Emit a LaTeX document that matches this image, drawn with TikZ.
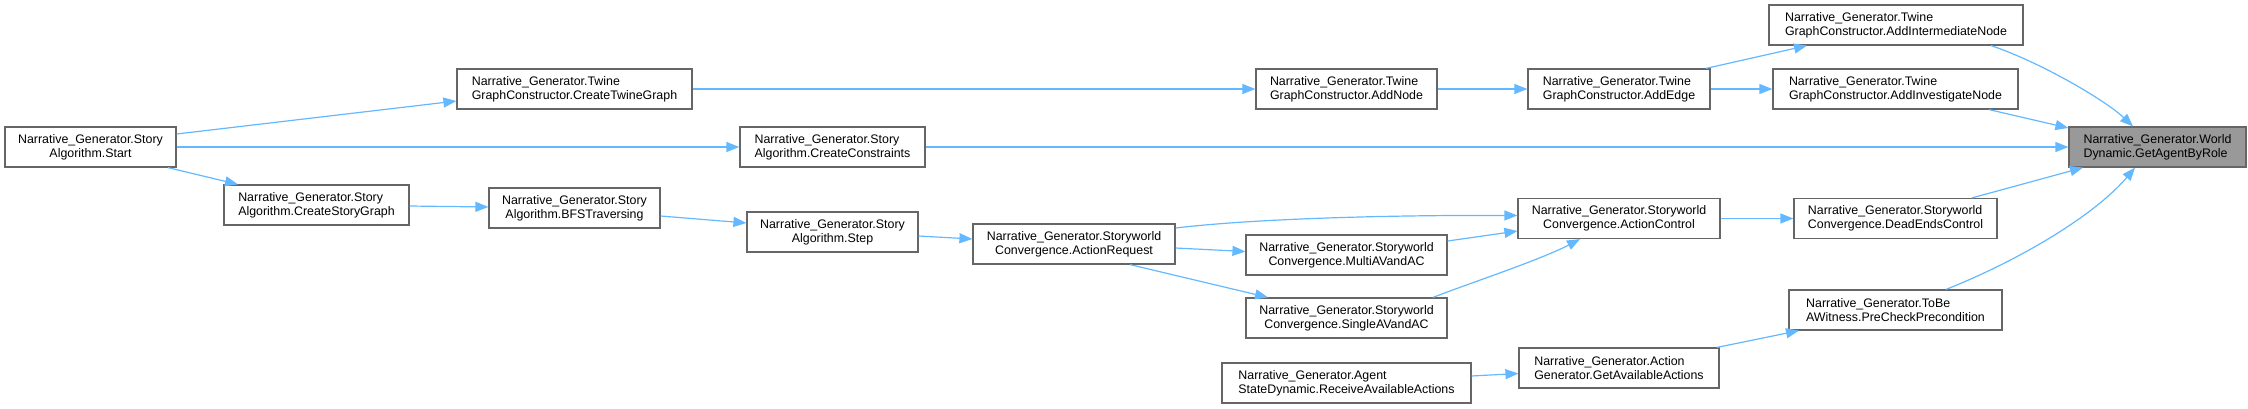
\documentclass[tikz,border=0pt]{standalone}
\usepackage{fontspec}
\setmainfont{Liberation Sans}
\usetikzlibrary{arrows.meta}
\definecolor{edgeblue}{HTML}{63B8FF}
\definecolor{boxgray}{HTML}{666666}
\definecolor{mainfill}{HTML}{999999}
\tikzset{
  box/.style={draw=boxgray, line width=1.2pt, fill=white, minimum height=40pt, inner sep=2pt,
    font=\fontsize{12.4}{14}\selectfont, text=black},
  boxl/.style={box, align=left},
  boxc/.style={box, align=center},
  edge/.style={draw=edgeblue, line width=1.2pt, -{Triangle[length=13pt,width=10pt]}},
}
\begin{document}
\begin{tikzpicture}[x=1pt,y=-1pt]
\useasboundingbox (0,0) rectangle (2248,408);
% nodes
\node[boxc, minimum width=171pt] (start) at (90.5,147) {Narrative\_Generator.Story\\Algorithm.Start};
\node[boxl, minimum width=185pt] (storyg) at (316.5,205) {Narrative\_Generator.Story\\Algorithm.CreateStoryGraph};
\node[boxl, minimum width=235pt] (twine) at (574.5,89) {Narrative\_Generator.Twine\\GraphConstructor.CreateTwineGraph};
\node[boxl, minimum width=185pt] (constr) at (832.5,147) {Narrative\_Generator.Story\\Algorithm.CreateConstraints};
\node[boxc, minimum width=171pt] (bfs) at (574.5,208) {Narrative\_Generator.Story\\Algorithm.BFSTraversing};
\node[boxc, minimum width=171pt] (step) at (832.5,232) {Narrative\_Generator.Story\\Algorithm.Step};
\node[boxc, minimum width=202pt] (areq) at (1074,244) {Narrative\_Generator.Storyworld\\Convergence.ActionRequest};
\node[boxc, minimum width=201pt] (multi) at (1346.5,255) {Narrative\_Generator.Storyworld\\Convergence.MultiAVandAC};
\node[boxc, minimum width=201pt] (single) at (1346.5,318) {Narrative\_Generator.Storyworld\\Convergence.SingleAVandAC};
\node[boxl, minimum width=249pt] (recv) at (1346.5,383) {Narrative\_Generator.Agent\\StateDynamic.ReceiveAvailableActions};
\node[boxl, minimum width=181pt] (addnode) at (1346.5,89) {Narrative\_Generator.Twine\\GraphConstructor.AddNode};
\node[boxl, minimum width=182pt] (addedge) at (1619,89) {Narrative\_Generator.Twine\\GraphConstructor.AddEdge};
\node[boxc, minimum width=202pt] (actctrl) at (1619,218.5) {Narrative\_Generator.Storyworld\\Convergence.ActionControl};
\node[boxl, minimum width=200pt] (actgen) at (1619,368) {Narrative\_Generator.Action\\Generator.GetAvailableActions};
\node[boxl, minimum width=254pt] (addinter) at (1896,25) {Narrative\_Generator.Twine\\GraphConstructor.AddIntermediateNode};
\node[boxl, minimum width=245pt] (addinv) at (1895.5,89) {Narrative\_Generator.Twine\\GraphConstructor.AddInvestigateNode};
\node[boxl, minimum width=203pt] (dead) at (1895.5,218.5) {Narrative\_Generator.Storyworld\\Convergence.DeadEndsControl};
\node[boxl, minimum width=213pt] (pre) at (1895.5,310) {Narrative\_Generator.ToBe\\AWitness.PreCheckPrecondition};
\node[boxl, minimum width=177pt, fill=mainfill] (get) at (2157.5,147) {Narrative\_Generator.World\\Dynamic.GetAgentByRole};
% edges
\draw[edge] ([yshift=13pt]start.east) -- ([yshift=-12pt]twine.west);
\draw[edge] (start.east) -- (constr.west);
\draw[edge] ([xshift=77.5pt]start.south) -- ([xshift=-78.5pt]storyg.north);
\draw[edge] ([yshift=-1pt]storyg.east) -- ([yshift=1pt]bfs.west);
\draw[edge] ([yshift=-8pt]bfs.east) -- ([yshift=9pt]step.west);
\draw[edge] ([yshift=-4pt]step.east) -- ([yshift=5pt]areq.west);
\draw[edge] ([yshift=16pt]areq.east) .. controls (1260,218) and (1400,215) .. ([yshift=3pt]actctrl.west);
\draw[edge] ([yshift=-4pt]areq.east) -- ([yshift=3.5pt]multi.west);
\draw[edge] ([xshift=56pt]areq.south) -- ([xshift=-78.5pt]single.north);
\draw[edge] ([yshift=14pt]multi.east) -- ([yshift=-12.5pt]actctrl.west);
\draw[edge] ([xshift=86.5pt]single.north) .. controls (1470,283) and (1540,260) .. ([xshift=-39pt]actctrl.south);
\draw[edge] (twine.east) -- (addnode.west);
\draw[edge] (addnode.east) -- (addedge.west);
\draw[edge] ([xshift=87pt]addedge.north) -- ([xshift=-89pt]addinter.south);
\draw[edge] (addedge.east) -- (addinv.west);
\draw[edge] ([xshift=95pt]addinter.south) .. controls (2040,62) and (2105,100) .. ([xshift=-24.5pt]get.north);
\draw[edge] ([xshift=93.5pt]addinv.south) -- ([yshift=19pt]get.west);
\draw[edge] (constr.east) -- (get.west);
\draw[edge] ([xshift=76.5pt]dead.north) -- ([xshift=-74.5pt]get.south);
\draw[edge] ([xshift=50.5pt]pre.north) .. controls (2020,260) and (2095,215) .. ([xshift=-22.5pt]get.south);
\draw[edge] (actctrl.east) -- (dead.west);
\draw[edge] ([xshift=98pt]actgen.north) -- ([xshift=-96.5pt]pre.south);
\draw[edge] ([yshift=7pt]recv.east) -- ([yshift=-5.5pt]actgen.west);
\end{tikzpicture}
\end{document}
